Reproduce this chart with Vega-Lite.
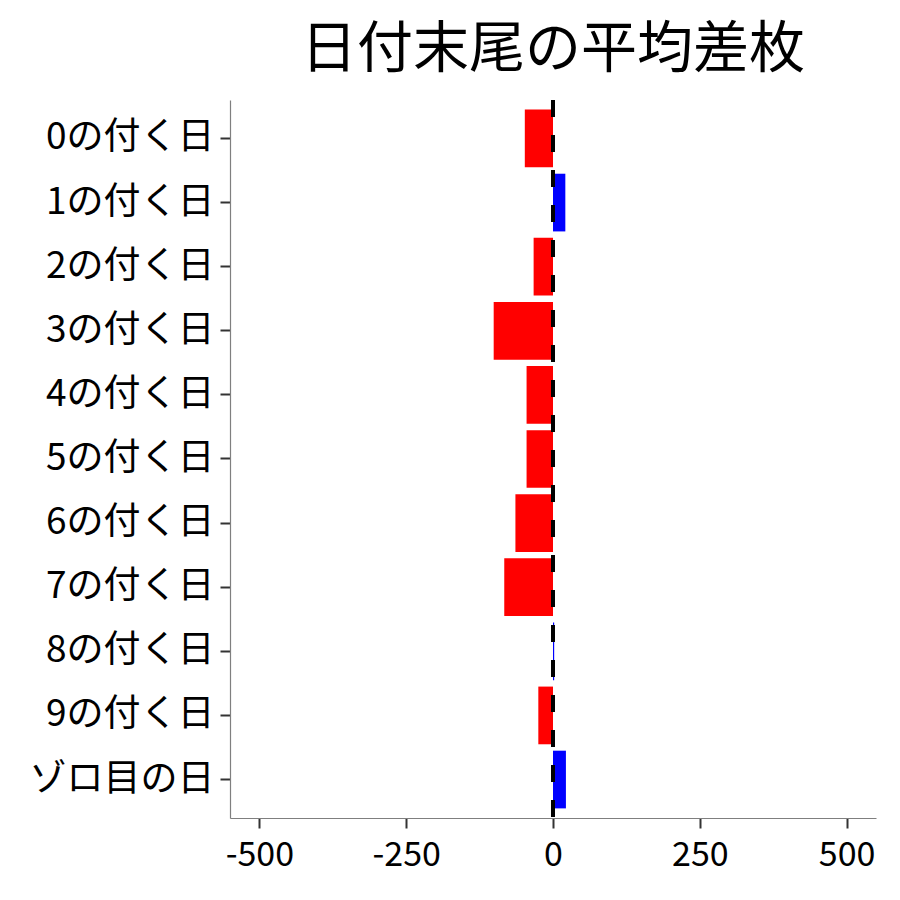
{
  "$schema": "https://vega.github.io/schema/vega-lite/v6.json",
  "width": 646,
  "height": 718,
  "autosize": {"type": "none"},
  "padding": {"left": 230, "top": 100, "right": 24, "bottom": 82},
  "background": "white",
  "title": {
    "text": "日付末尾の平均差枚",
    "font": "Noto Sans CJK JP",
    "fontSize": 56,
    "fontWeight": "normal",
    "color": "black",
    "anchor": "middle",
    "offset": 19
  },
  "config": {
    "view": {"stroke": null},
    "axis": {
      "grid": false,
      "labelFont": "Noto Sans CJK JP",
      "labelColor": "black",
      "labelLimit": 400,
      "domainColor": "#7f7f7f",
      "domainWidth": 1.2,
      "tickColor": "#333333",
      "tickWidth": 2,
      "tickSize": 10
    }
  },
  "layer": [
    {
      "data": {
        "values": [
          {"label": "0の付く日", "value": -48},
          {"label": "1の付く日", "value": 21},
          {"label": "2の付く日", "value": -33},
          {"label": "3の付く日", "value": -101},
          {"label": "4の付く日", "value": -45},
          {"label": "5の付く日", "value": -45},
          {"label": "6の付く日", "value": -64},
          {"label": "7の付く日", "value": -83},
          {"label": "8の付く日", "value": 2},
          {"label": "9の付く日", "value": -25},
          {"label": "ゾロ目の日", "value": 22}
        ]
      },
      "mark": {"type": "bar"},
      "encoding": {
        "y": {
          "field": "label",
          "type": "nominal",
          "sort": null,
          "scale": {"paddingInner": 0.1, "paddingOuter": 0.15},
          "axis": {"title": null, "labelFontSize": 37, "labelPadding": 6, "labelLimit": 400}
        },
        "x": {
          "field": "value",
          "type": "quantitative",
          "scale": {"domain": [-550, 550], "nice": false, "zero": false},
          "axis": {
            "title": null,
            "values": [-500, -250, 0, 250, 500],
            "labelExpr": "datum.value < 0 ? '-' + abs(datum.value) : '' + datum.value",
            "labelFontSize": 34,
            "labelPadding": 10
          }
        },
        "color": {
          "condition": {"test": "datum.value < 0", "value": "#FF0000"},
          "value": "#0000FF"
        }
      }
    },
    {
      "data": {"values": [{"zero": 0}]},
      "mark": {"type": "rule", "color": "black", "strokeWidth": 4, "strokeDash": [17, 18]},
      "encoding": {
        "x": {"field": "zero", "type": "quantitative"}
      }
    }
  ]
}
